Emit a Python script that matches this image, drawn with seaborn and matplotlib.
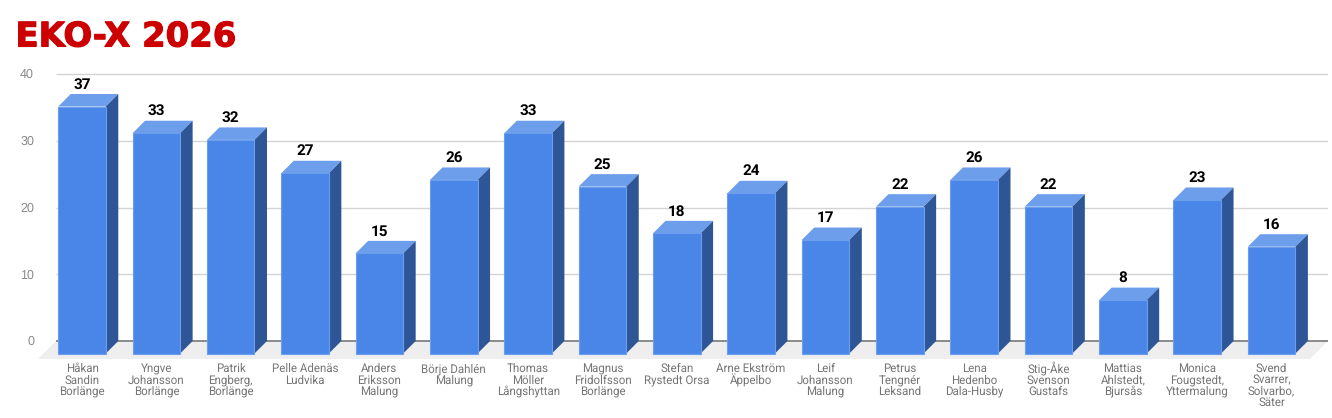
import matplotlib
matplotlib.use("Agg")
import matplotlib.pyplot as plt
import matplotlib.patheffects as pe
from matplotlib.patches import Polygon
from matplotlib.transforms import ScaledTranslation
import seaborn as sns
import pandas as pd

names = ["Håkan\nSandin\nBorlänge", "Yngve\nJohansson\nBorlänge", "Patrik\nEngberg,\nBorlänge",
         "Pelle Adenäs\nLudvika", "Anders\nEriksson\nMalung", "Börje Dahlén\nMalung",
         "Thomas\nMöller\nLångshyttan", "Magnus\nFridolfsson\nBorlänge", "Stefan\nRystedt Orsa",
         "Arne Ekström\nÄppelbo", "Leif\nJohansson\nMalung", "Petrus\nTengnér\nLeksand",
         "Lena\nHedenbo\nDala-Husby", "Stig-Åke\nSvenson\nGustafs", "Mattias\nAhlstedt,\nBjursås",
         "Monica\nFougstedt,\nYttermalung", "Svend\nSvarrer,\nSolvarbo,\nSäter"]
points = [37, 33, 32, 27, 15, 26, 33, 25, 18, 24, 17, 22, 26, 22, 8, 23, 16]
y_ticks = [0, 10, 20, 30, 40]

FRONT = "#4a86e8"
TOP = "#6d9eeb"
SIDE = "#2e5697"
EDGE = "#6d9eeb"

df = pd.DataFrame({"name": names, "points": points})

sns.set_theme(style="white")
plt.rcParams["font.family"] = ["Liberation Sans", "DejaVu Sans"]
plt.rcParams["text.hinting"] = "none"

W, H = 1332, 418
fig = plt.figure(figsize=(W / 100, H / 100), dpi=100)
# axes box in pixels: x 38-1328, y 60-359
ax = fig.add_axes([38 / W, (H - 359) / H, 1290 / W, 299 / H])

sns.barplot(data=df, x="name", y="points", color=FRONT, saturation=1, width=0.64,
            ax=ax, zorder=4, edgecolor=EDGE, linewidth=0.8)

# scales: 74.35 px per category, 6.675 px per point
px_x = 1 / 74.35
px_y = 1 / 6.675
ax.set_xlim(-44 * px_x, 1246 * px_x)
ax.set_ylim(-18 * px_y, 281 * px_y)
x0, x1 = ax.get_xlim()

# floor and grid
depth_x, depth_y = 12.5 * px_x, 12.5 * px_y
floor_x = 18 * px_x
ax.add_patch(Polygon([(x0, -18 * px_y), (x0 + floor_x, 0), (x1, 0), (x1 - floor_x, -18 * px_y)],
                     closed=True, fc="#eeeeee", ec="none", zorder=1))
for t in y_ticks:
    ax.hlines(t, x0 + floor_x, x1, color="#8a8a8a" if t == 0 else "#d4d4d4",
              lw=1.4 if t == 0 else 1, zorder=2)

# fake 3d: push the front face down and add top and side faces
for bar, val in zip(ax.patches[:len(points)], points):
    bar.set_y(-depth_y)
    left = bar.get_x()
    right = left + bar.get_width()
    front_top = val - depth_y
    ax.add_patch(Polygon([(left, front_top), (right, front_top),
                          (right + depth_x, val), (left + depth_x, val)],
                         closed=True, fc=TOP, ec="none", zorder=3))
    ax.add_patch(Polygon([(right, -depth_y), (right + depth_x, 0),
                          (right + depth_x, val), (right, front_top)],
                         closed=True, fc=SIDE, ec="none", zorder=3))
    ax.text(left + bar.get_width() / 2, val + 9.5 * px_y, str(val), ha="center", va="center",
            fontsize=11, fontweight="bold", color="black", family="Roboto", zorder=5)

sns.despine(ax=ax, left=True, bottom=True, top=True, right=True)
ax.set_xlabel("")
ax.set_ylabel("")
ax.set_yticks(y_ticks)
ax.set_xticks(range(len(names)))
ax.set_xticklabels(names, linespacing=0.98, fontsize=8.3, color="#757575", family="Roboto")
ax.tick_params(axis="x", length=0, pad=3)
ax.tick_params(axis="y", length=0, pad=2.9, labelsize=9, labelcolor="#8a8a8a")
ax.grid(False)
ax.patch.set_alpha(0)

# small nudges so tick text sits where it does in the original
nudge_y = ScaledTranslation(0, 0.5 / 100, fig.dpi_scale_trans)
nudge_up = ScaledTranslation(0, 2 / 100, fig.dpi_scale_trans)
for lab in ax.get_yticklabels():
    lab.set_transform(lab.get_transform() + nudge_y)
for lab in ax.get_xticklabels():
    if "Å" in lab.get_text():
        lab.set_transform(lab.get_transform() + nudge_up)

fig.text(15.5 / W, 1 - 46.5 / H, "EKO-X 2026", color="#cc0000", fontsize=24.4, fontweight="bold",
         family="DejaVu Sans", va="baseline", ha="left",
         path_effects=[pe.withStroke(linewidth=0.8, foreground="#cc0000")])

fig.savefig("out.png", dpi=100)
